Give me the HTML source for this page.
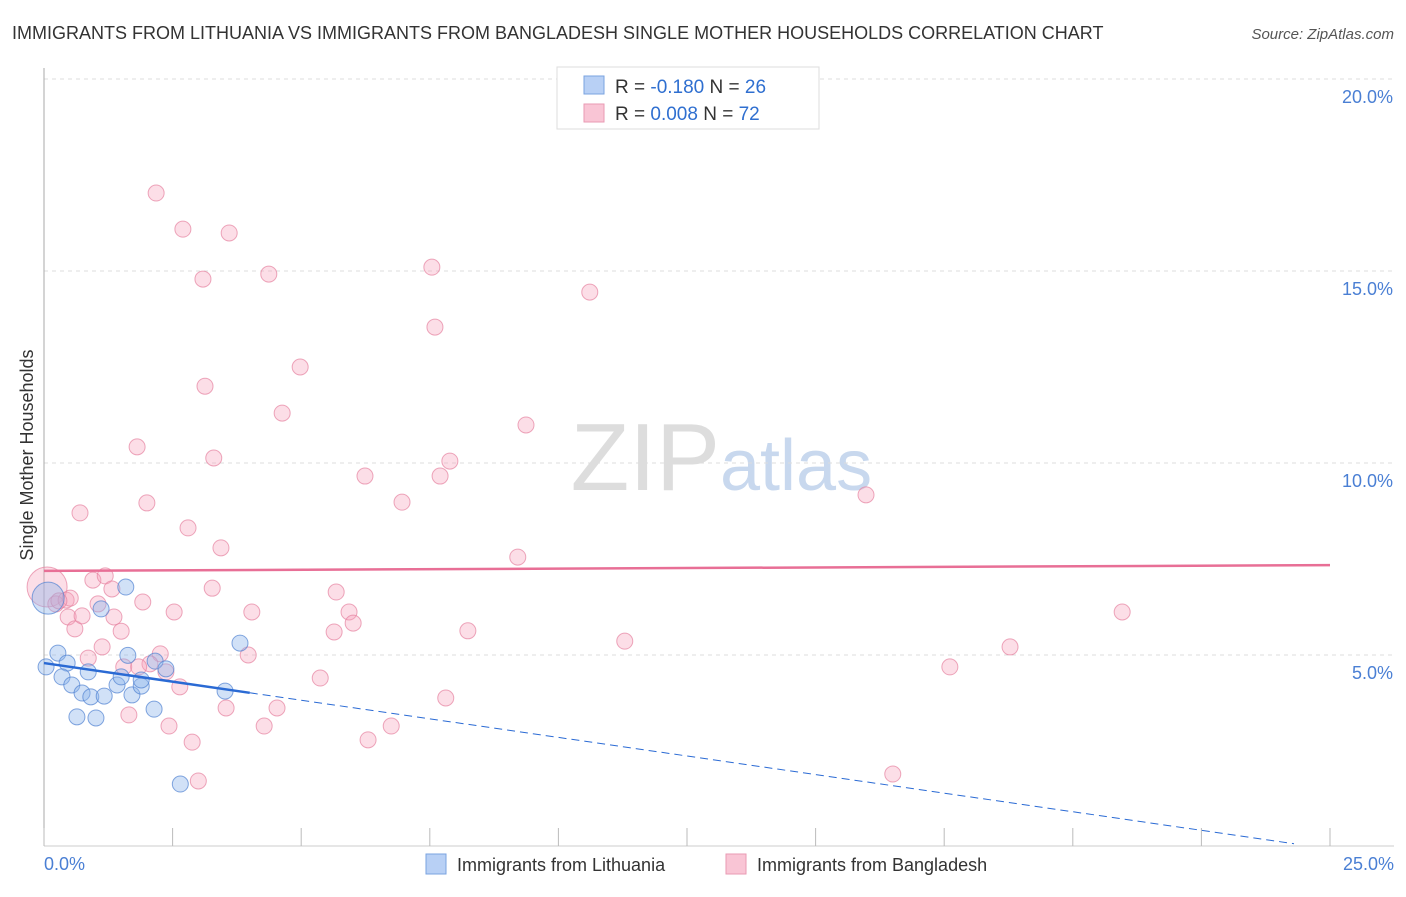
<!DOCTYPE html>
<html><head><meta charset="utf-8"><style>
body{margin:0;background:#fff;font-family:"Liberation Sans",sans-serif}
svg text{font-family:"Liberation Sans",sans-serif}
</style></head><body>
<svg width="1406" height="892" xmlns="http://www.w3.org/2000/svg">
<text x="12" y="39" font-size="18" fill="#333">IMMIGRANTS FROM LITHUANIA VS IMMIGRANTS FROM BANGLADESH SINGLE MOTHER HOUSEHOLDS CORRELATION CHART</text>
<text x="1394" y="39" font-size="15" fill="#555" font-style="italic" text-anchor="end">Source: ZipAtlas.com</text>
<text x="720" y="490" font-size="96" fill="#ddd" text-anchor="end" font-family="Liberation Serif">ZIP</text>
<text x="720" y="490" font-size="72" fill="#c8d8ee">atlas</text>
<g id="grid"></g>
<line x1="44" y1="68" x2="44" y2="846" stroke="#aaa"/>
<line x1="44" y1="846" x2="1394" y2="846" stroke="#ccc"/>
<g id="xticks"></g>
<text x="33" y="455" font-size="18" fill="#333" transform="rotate(-90 33 455)" text-anchor="middle">Single Mother Households</text>
<text x="44" y="870" font-size="18" fill="#4a7fd4">0.0%</text>
<text x="1394" y="870" font-size="18" fill="#4a7fd4" text-anchor="end">25.0%</text>
<g id="pts"></g>
<g id="lines"></g>
<g>
<rect x="557" y="67" width="262" height="62" fill="#fff" stroke="#ddd"/>
<rect x="584" y="76" width="20" height="18" fill="#b8d0f5" stroke="#7aa3e0"/>
<rect x="584" y="104" width="20" height="18" fill="#f9c5d5" stroke="#e99ab3"/>
<text x="615" y="93" font-size="19" fill="#333">R = <tspan fill="#2f6fd0">-0.180</tspan>   N = <tspan fill="#2f6fd0">26</tspan></text>
<text x="615" y="120" font-size="19" fill="#333">R = <tspan fill="#2f6fd0"> 0.008</tspan>   N = <tspan fill="#2f6fd0">72</tspan></text>
</g>
<g>
<rect x="426" y="854" width="20" height="20" fill="#b8d0f5" stroke="#7aa3e0"/>
<text x="457" y="871" font-size="18" fill="#333">Immigrants from Lithuania</text>
<rect x="726" y="854" width="20" height="20" fill="#f9c5d5" stroke="#e99ab3"/>
<text x="757" y="871" font-size="18" fill="#333">Immigrants from Bangladesh</text>
</g>
</svg>
<script>
const yTicks=[5,10,15,20];
const yTickLabels=["5.0%","10.0%","15.0%","20.0%"];
const blueX=[0.08,0.27,0.45,0.35,0.54,0.86,0.74,0.91,1.17,0.64,1.01,1.11,1.59,1.42,1.5,1.63,1.71,1.89,1.89,2.16,2.37,2.14,3.52,3.81,2.65,0.04];
const blueY=[6.48,5.05,4.79,4.43,4.22,4.56,4.01,3.91,3.93,3.39,3.36,6.2,6.77,4.22,4.43,4.99,3.96,4.19,4.35,4.84,4.64,3.59,4.06,5.31,1.64,4.69];
const pinkX=[0.06,0.23,0.43,0.51,0.29,0.47,0.6,0.74,0.95,1.19,1.32,1.05,1.36,1.5,0.7,2.18,2.7,3.6,3.09,4.37,7.54,10.61,7.6,4.98,3.13,4.63,9.37,1.81,3.3,7.89,6.24,7.7,2.0,6.96,15.98,2.8,3.44,9.21,3.27,5.68,1.92,2.53,4.04,5.93,6.01,5.64,8.24,20.96,11.29,18.78,1.13,0.86,2.26,2.06,1.55,1.84,2.37,3.97,2.64,5.37,17.61,7.81,1.65,2.43,3.54,4.53,4.28,6.75,2.88,6.3,3.0,16.5];
const pinkY=[6.77,6.33,6.43,6.48,6.41,5.99,5.68,6.02,6.95,7.06,6.72,6.33,5.99,5.62,8.7,17.03,16.09,15.99,14.79,14.92,15.1,14.45,13.54,12.5,12.0,11.3,10.99,10.42,10.13,10.05,9.66,9.66,8.96,8.98,9.17,8.31,7.79,7.55,6.74,6.64,6.38,6.12,6.12,6.12,5.83,5.6,5.63,6.12,5.36,5.21,5.21,4.92,5.03,4.77,4.69,4.69,4.56,5.0,4.17,4.4,4.69,3.88,3.44,3.15,3.62,3.62,3.15,3.15,2.73,2.79,1.72,1.9];
const pinkTrend=[7.19,7.34];
const blueTrend=[4.79,-0.05];
const X=v=>44+v*51.44, Y=v=>847-v*38.4;
const NS="http://www.w3.org/2000/svg";
function mk(tag,attrs,parent){const e=document.createElementNS(NS,tag);for(const k in attrs)e.setAttribute(k,attrs[k]);document.getElementById(parent).appendChild(e);return e;}
yTicks.forEach((t,i)=>{
 const l=mk('line',{x1:44,x2:1394,y1:Y(t),y2:Y(t),stroke:'#ddd','stroke-dasharray':'4,4'},'grid');
 
 
 const tx=mk('text',{x:1393,y:Y(t)+24,'font-size':18,fill:'#4a7fd4','text-anchor':'end'},'grid');
 tx.textContent=yTickLabels[i];
 
 
});
for(let i=0;i<=10;i++){
 const l=mk('line',{x1:X(i*2.5),x2:X(i*2.5),y1:828,y2:846,stroke:'#bbb'},'xticks');
 
 
}
pinkX.forEach((x,i)=>{
 const c=mk('circle',{cx:X(x),cy:Y(pinkY[i]),r:i==0?20:8,fill:'rgba(245,160,185,0.35)',stroke:'rgba(230,130,160,0.7)'},'pts');
 
 
});
blueX.forEach((x,i)=>{
 const c=mk('circle',{cx:X(x),cy:Y(blueY[i]),r:i==0?16:8,fill:'rgba(140,180,235,0.4)',stroke:'rgba(80,130,210,0.7)'},'pts');
 
 
});
const pl=mk('line',{x1:X(0),y1:Y(pinkTrend[0]),x2:X(25),y2:Y(pinkTrend[1]),stroke:'#e86f96','stroke-width':2.5},'lines');


const bs=(blueTrend[1]-blueTrend[0])/25;
const bl=mk('line',{x1:X(0),y1:Y(blueTrend[0]),x2:X(4),y2:Y(blueTrend[0]+bs*4),stroke:'#2a6ad4','stroke-width':2.5},'lines');


const bd=mk('line',{x1:X(4),y1:Y(blueTrend[0]+bs*4),x2:X(24.3),y2:Y(blueTrend[0]+bs*24.3),stroke:'#2a6ad4','stroke-width':1,'stroke-dasharray':'8,5'},'lines');


</script>
</body></html>
